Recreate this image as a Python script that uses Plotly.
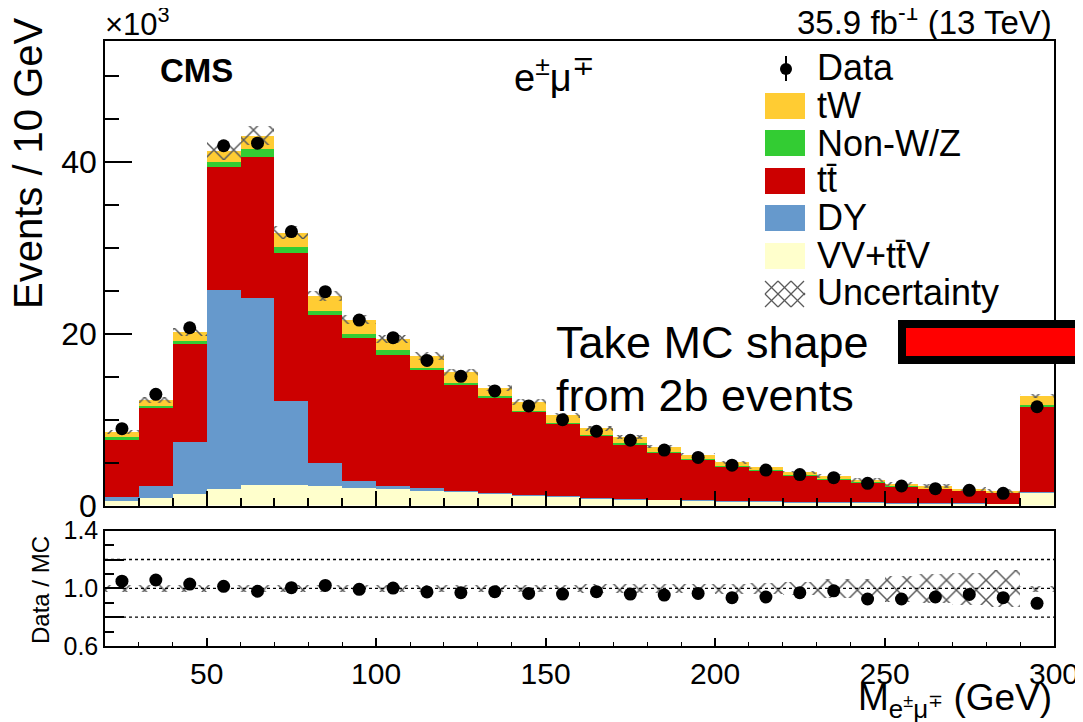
import numpy as np
import plotly.graph_objects as go

# bins of 10 GeV from 20 to 300 (centres)
bin_centers = [25, 35, 45, 55, 65, 75, 85, 95, 105, 115, 125, 135, 145, 155,
               165, 175, 185, 195, 205, 215, 225, 235, 245, 255, 265, 275, 285, 295]

# events per bin, in units of 10^3 (stack order bottom -> top)
vv_ttv = [0.58, 0.90, 1.36, 1.94, 2.33, 2.33, 2.25, 2.02, 1.87, 1.80, 1.60, 1.34, 1.15, 1.00,
          0.83, 0.72, 0.64, 0.56, 0.50, 0.45, 0.40, 0.36, 0.32, 0.28, 0.25, 0.22, 0.20, 1.53]
dy = [0.42, 1.35, 6.04, 23.2, 21.8, 9.80, 2.75, 0.88, 0.38, 0.20, 0.12, 0.11, 0.11, 0.10,
      0.07, 0.06, 0.05, 0.04, 0.04, 0.03, 0.03, 0.03, 0.03, 0.03, 0.03, 0.03, 0.03, 0.03]
ttbar = [6.60, 9.15, 11.45, 14.3, 16.5, 17.3, 17.2, 16.6, 15.25, 13.85, 12.38, 11.15, 9.64, 8.45,
         7.20, 6.37, 5.46, 4.80, 4.00, 3.55, 3.10, 2.65, 2.30, 1.95, 1.70, 1.47, 1.26, 10.0]
non_wz = [0.40, 0.20, 0.27, 0.54, 0.85, 0.70, 0.50, 0.50, 0.58, 0.15, 0.20, 0.15, 0.15, 0.10,
          0.15, 0.10, 0.10, 0.05, 0.05, 0.05, 0.04, 0.04, 0.03, 0.03, 0.03, 0.03, 0.02, 0.10]
tw = [0.55, 0.70, 1.10, 1.30, 1.60, 1.65, 1.70, 1.65, 1.30, 1.40, 1.20, 0.95, 1.00, 0.85,
      0.75, 0.75, 0.60, 0.45, 0.45, 0.35, 0.30, 0.33, 0.27, 0.26, 0.22, 0.20, 0.17, 1.10]
data = [8.95, 12.95, 20.7, 41.9, 42.2, 31.9, 24.9, 21.6, 19.55, 16.9, 15.05, 13.35, 11.6, 10.0,
        8.65, 7.60, 6.45, 5.60, 4.70, 4.13, 3.60, 3.24, 2.58, 2.27, 1.96, 1.77, 1.42, 11.5]
# relative MC uncertainty per bin
rel_unc = [0.025, 0.025, 0.025, 0.025, 0.025, 0.025, 0.025, 0.025, 0.025, 0.025, 0.025, 0.025,
           0.025, 0.025, 0.03, 0.03, 0.03, 0.03, 0.035, 0.04, 0.045, 0.065, 0.07, 0.09,
           0.10, 0.11, 0.13, 0.02]
# data / MC
ratio = [1.05, 1.058, 1.03, 1.014, 0.98, 1.005, 1.02, 0.993, 1.002, 0.975, 0.97, 0.977, 0.965,
         0.96, 0.977, 0.96, 0.953, 0.965, 0.935, 0.94, 0.97, 0.983, 0.926, 0.926, 0.94, 0.958,
         0.935, 0.896]

stack = [
    ("VV+tt̄V", vv_ttv, "#FFFFCC"),
    ("DY", dy, "#6699CC"),
    ("tt̄", ttbar, "#CC0000"),
    ("Non-W/Z", non_wz, "#33CC33"),
    ("tW", tw, "#FFCC33"),
]

FONT = "Liberation Sans, Arial, Helvetica, sans-serif"
# the page body has an 8px margin, so the figure is drawn 8px smaller
OFF = 8
W, H = 1083, 722
L, R, T, B = 105, 1054, 41, 646  # plot area in window pixels


def px(x):
    return (x - L) / (R - L)


def py(y):
    return (B - y) / (B - T)


fig = go.Figure()

base = np.zeros(len(bin_centers))
for name, vals, color in stack:
    vals = np.asarray(vals)
    fig.add_trace(go.Bar(
        x=bin_centers, y=vals, base=base.copy(), width=10, name=name,
        marker=dict(color=color, line_width=0), xaxis="x", yaxis="y",
        showlegend=False, hoverinfo="skip",
    ))
    base = base + vals
total = base

unc = np.asarray(rel_unc)
hatch = dict(shape="x", fgcolor="#5A5A5A", bgcolor="rgba(0,0,0,0)", fgopacity=1,
             size=14, solidity=0.2)
fig.add_trace(go.Bar(
    x=bin_centers, y=2 * total * unc, base=total * (1 - unc), width=10,
    marker=dict(color="rgba(0,0,0,0)", line_width=0, pattern=hatch),
    xaxis="x", yaxis="y", showlegend=False, hoverinfo="skip",
))
fig.add_trace(go.Scatter(
    x=bin_centers, y=data, mode="markers", marker=dict(color="black", size=13),
    xaxis="x", yaxis="y", showlegend=False,
))

# ratio panel
fig.add_trace(go.Bar(
    x=bin_centers, y=2 * unc, base=1 - unc, width=10,
    marker=dict(color="rgba(0,0,0,0)", line_width=0, pattern=hatch),
    xaxis="x2", yaxis="y2", showlegend=False, hoverinfo="skip",
))
fig.add_trace(go.Scatter(
    x=bin_centers, y=ratio, mode="markers", marker=dict(color="black", size=13),
    xaxis="x2", yaxis="y2", showlegend=False,
))

main_bottom = py(505.5)
ratio_top = py(530.7)

line_style = dict(showline=True, linecolor="black", linewidth=1.5, mirror=True,
                  ticks="inside", tickcolor="black", showgrid=False, zeroline=False,
                  automargin=False)

fig.update_layout(
    width=W - OFF, height=H - OFF,
    margin=dict(l=L - OFF, r=W - R, t=T - OFF, b=H - B, autoexpand=False),
    plot_bgcolor="white", paper_bgcolor="white",
    barmode="overlay", bargap=0,
    font=dict(family=FONT, color="black"),
    xaxis=dict(domain=[0, 1], anchor="y", range=[20, 300], showticklabels=False,
               tick0=0, dtick=50, ticklen=15, tickwidth=1.5,
               minor=dict(dtick=10, ticklen=8, ticks="inside", tickcolor="black", tickwidth=1.5),
               **line_style),
    yaxis=dict(domain=[main_bottom, 1], anchor="x", range=[0, 54.1],
               tickvals=[0, 20, 40], ticklen=27, tickwidth=1.5,
               tickfont=dict(family=FONT, size=32, color="black"),
               minor=dict(dtick=5, ticklen=14, ticks="inside", tickcolor="black", tickwidth=1.5),
               **line_style),
    xaxis2=dict(domain=[0, 1], anchor="y2", range=[20, 300], tick0=0, dtick=50,
                ticklen=8, tickwidth=1.5,
                tickfont=dict(family=FONT, size=30, color="black"),
                minor=dict(dtick=10, ticklen=4, ticks="inside", tickcolor="black", tickwidth=1.2),
                **line_style),
    yaxis2=dict(domain=[0, ratio_top], anchor="x2", range=[0.6, 1.4],
                tickvals=[0.6, 0.8, 1.0, 1.2, 1.4], ticktext=["0.6", "", "1.0", "", "1.4"],
                ticklen=19, tickwidth=1.5,
                tickfont=dict(family=FONT, size=25, color="black"),
                minor=dict(dtick=0.1, ticklen=9, ticks="inside", tickcolor="black", tickwidth=1.5),
                **line_style),
)

shapes = []
for lvl in [0.8, 1.0, 1.2]:
    shapes.append(dict(type="line", xref="paper", yref="y2", x0=0, x1=1, y0=lvl, y1=lvl,
                       line=dict(color="black", width=1.3, dash="dot")))

# red box outside the frame
shapes.append(dict(type="rect", xref="paper", yref="paper",
                   x0=px(902), x1=px(1100), y0=py(324), y1=py(360),
                   fillcolor="#FF0000", line=dict(color="black", width=8)))

# manual legend
leg_x0, leg_x1 = 765, 805
rows = [("tW", "#FFCC33", 93), ("Non-W/Z", "#33CC33", 130), ("tt̄", "#CC0000", 168),
        ("DY", "#6699CC", 205), ("VV+tt̄V", "#FFFFCC", 243)]
for label, color, ytop in rows:
    shapes.append(dict(type="rect", xref="paper", yref="paper",
                       x0=px(leg_x0), x1=px(leg_x1), y0=py(ytop + 26), y1=py(ytop),
                       fillcolor=color, line=dict(color=color, width=0)))
# data marker in legend
shapes.append(dict(type="line", xref="paper", yref="paper", x0=px(786), x1=px(786),
                   y0=py(56), y1=py(81), line=dict(color="black", width=2)))
shapes.append(dict(type="circle", xref="paper", yref="paper", x0=px(780), x1=px(792),
                   y0=py(75), y1=py(63), fillcolor="black", line=dict(color="black", width=0)))
# hatched uncertainty swatch
uy0, uy1 = 281, 307
for k in range(-2, 3):
    for sgn in (1, -1):
        xa = leg_x0 + k * 13
        pts = [(xa, uy1), (xa + 26, uy0)] if sgn > 0 else [(xa, uy0), (xa + 26, uy1)]
        (xs, ys), (xe, ye) = pts
        if xs < leg_x0:
            ys = ys + (ye - ys) * (leg_x0 - xs) / (xe - xs)
            xs = leg_x0
        if xe > leg_x1:
            ye = ys + (ye - ys) * (leg_x1 - xs) / (xe - xs)
            xe = leg_x1
        if xe > xs:
            shapes.append(dict(type="line", xref="paper", yref="paper",
                               x0=px(xs), x1=px(xe), y0=py(ys), y1=py(ye),
                               line=dict(color="#5A5A5A", width=1.3)))
fig.update_layout(shapes=shapes)

annotations = []
leg_labels = [("Data", 68), ("tW", 105), ("Non-W/Z", 143), ("tt̄", 180), ("DY", 217),
              ("VV+tt̄V", 255), ("Uncertainty", 292)]
for text, yc in leg_labels:
    annotations.append(dict(text=text, xref="paper", yref="paper", x=px(815), y=py(yc),
                            xanchor="left", yanchor="middle", showarrow=False,
                            font=dict(size=36, family=FONT)))


def add_text(text, x, y, size, xanchor="left", yanchor="middle", angle=0, bold=False):
    annotations.append(dict(text=f"<b>{text}</b>" if bold else text, xref="paper", yref="paper",
                            x=px(x), y=py(y), xanchor=xanchor, yanchor=yanchor,
                            textangle=angle, showarrow=False,
                            font=dict(size=size, family=FONT, color="black")))


add_text("×10<sup>3</sup>", 103, 22, 31)
add_text("35.9 fb<sup>-1</sup> (13 TeV)", 1054, 20, 33, xanchor="right")
add_text("CMS", 158, 70, 33, bold=True)
add_text("e<sup>±</sup>μ<sup>∓</sup>", 512, 75, 38)
add_text("Take MC shape", 554, 342, 45)
add_text("from 2b events", 554, 395, 45)
add_text("Events / 10 GeV", 28, 163, 40, xanchor="center", angle=-90)
add_text("Data / MC", 40, 590, 24, xanchor="center", angle=-90)
add_text("M<sub>e<sup>±</sup>μ<sup>∓</sup></sub> (GeV)", 1054, 700, 37, xanchor="right")
fig.update_layout(annotations=annotations)

fig.write_html("out.html")
